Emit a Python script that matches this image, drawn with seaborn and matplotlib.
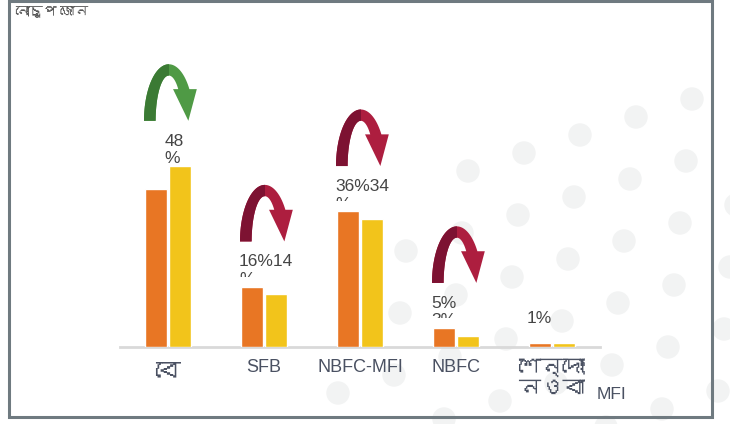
import numpy as np
import pandas as pd
import seaborn as sns
import matplotlib.pyplot as plt
from matplotlib.patches import Polygon, Rectangle, Circle
from matplotlib import transforms, font_manager
from matplotlib.ft2font import FT2Font

# chart data
categories = ["বে", "SFB", "NBFC-MFI", "NBFC", "শেন্দোং নওবা MFI"]
tick_labels = ["বে", "SFB", "NBFC-MFI", "NBFC", "শেন্দোং\nনওবা"]
orange_vals = [42, 16, 36, 5, 1]
yellow_vals = [48, 14, 34, 3, 1]
label_top = ["48", "16%14", "36%34", "5%", "1%"]
label_bottom = ["%", "%", "%", "3%", ""]
arrow_kind = ["up", "down", "down", "down", None]

ORANGE = "#e87624"
YELLOW = "#f2c41b"
TEXT = "#454545"
TICK = "#4a5162"
ARROW_COLS = {"up": ("#3b7a34", "#4f9a45"), "down": ("#7d1232", "#ad1e3f")}

sns.set_theme(style="white")

# look for any installed family that has Bengali glyphs
bengali = []
for f in font_manager.fontManager.ttflist:
    try:
        if 0x09AC in FT2Font(f.fname).get_charmap() and f.name not in bengali:
            bengali.append(f.name)
    except Exception:
        pass
plt.rcParams['font.family'] = ['Liberation Sans'] + bengali[:1] + ['DejaVu Sans']

W, H = 730, 424
fig = plt.figure(figsize=(W / 100, H / 100), dpi=100)
fig.patch.set_facecolor("white")

# background dot pattern (decoration)
px = transforms.Affine2D().scale(1 / 100) + fig.dpi_scale_trans
a = np.array([56, -18]); b = np.array([-6, 62]); o = np.array([524, 153])
edge_x = [300, 380, 418, 469, 524, 581, 641, 702, 760]
edge_y = [285, 235, 205, 170, 140, 118, 100, 90, 80]
for i in range(-12, 12):
    for j in range(-8, 10):
        x, y = o + i * a + j * b
        if not (-15 < y < 440 and x < 745):
            continue
        if y < np.interp(x, edge_x, edge_y):
            continue
        if x < 400 - max(0, y - 250) * 0.5:
            continue
        fig.add_artist(Circle((x, H - y), 11, transform=px, color="#f2f3f3", zorder=0))

# frame
fig.add_artist(Rectangle((9, H - 417), 703, 416, transform=px, fill=False,
                         edgecolor="#6f7a80", linewidth=2.2, zorder=5))
fig.text(15 / W, 1 - 12 / H, "নোংচুপ জোন", fontsize=10, color="#555555", va="center", ha="left")

ax = fig.add_axes([120 / W, (H - 347) / H, 480 / W, (347 - 20) / H])
ax.patch.set_alpha(0)

df = pd.DataFrame({
    "cat": categories * 2,
    "series": ["o"] * 5 + ["y"] * 5,
    "val": orange_vals + yellow_vals,
})
sns.barplot(data=df, x="cat", y="val", hue="series", palette=[ORANGE, YELLOW],
            width=0.51, gap=0.1, saturation=1, legend=False, ax=ax, zorder=3)

ymax = (347 - 20) / 3.77
ax.set_ylim(0, ymax)
ax.set_xlim(-0.5, 4.5)
for s in ["top", "right", "left"]:
    ax.spines[s].set_visible(False)
ax.spines["bottom"].set_color("#d9d9d9")
ax.spines["bottom"].set_linewidth(2)
ax.set_yticks([])
ax.set_xlabel("")
ax.set_ylabel("")
ax.set_xticks(range(5))
ax.set_xticklabels(tick_labels, fontsize=13, color=TICK)
ax.tick_params(axis="x", length=0, pad=9)
tl = ax.get_xticklabels()
tl[0].set_fontsize(18)
tl[-1].set_horizontalalignment("left")
tl[-1].set_fontsize(16)
tl[-1].set_linespacing(1.0)
tl[-1].set_transform(tl[-1].get_transform() + transforms.ScaledTranslation(-0.34, 0.02, fig.dpi_scale_trans))
ax.text(4.47, -0.145, "MFI", transform=transforms.blended_transform_factory(ax.transData, ax.transAxes),
        fontsize=12.5, color=TICK, ha="left", va="center")


def u_arrow(cx, base, kind):
    x0, w, h = cx - 0.25, 0.55, 15.0
    t1 = np.linspace(np.pi, np.arcsin(0.56), 50)
    t2 = np.linspace(np.arcsin(0.7), np.pi, 50)
    outer = np.c_[0.47 + 0.47 * np.cos(t1), 1.0 * np.sin(t1)]
    inner = np.c_[0.47 + 0.25 * np.cos(t2), 0.8 * np.sin(t2)]
    pts = np.vstack([outer, [[1.0, 0.56], [0.84, 0.0], [0.55, 0.56]], inner])
    pts = np.c_[x0 + pts[:, 0] * w, base + pts[:, 1] * h]
    dark, light = ARROW_COLS[kind]
    ax.add_patch(Polygon(pts, closed=True, color=light, lw=0, zorder=4))
    p2 = Polygon(pts, closed=True, color=dark, lw=0, zorder=4.1)
    ax.add_patch(p2)
    p2.set_clip_path(Rectangle((x0 - 0.05, base - 1), 0.47 * w + 0.05, h + 2, transform=ax.transData))


for i in range(5):
    top = max(orange_vals[i], yellow_vals[i])
    if arrow_kind[i]:
        u_arrow(i, top + 12, arrow_kind[i])
    if i == 0:
        anchor, lx, clipped = yellow_vals[i], i - 0.04, False
    else:
        anchor, lx, clipped = orange_vals[i], i - 0.26, True
    ax.text(lx, anchor + 6.6, label_top[i], fontsize=12.5, color=TEXT, ha="left", va="center", zorder=6)
    if label_bottom[i]:
        t = ax.text(lx, anchor + 1.9, label_bottom[i], fontsize=12.5, color=TEXT,
                    ha="left", va="center", zorder=6)
        if clipped:
            t.set_clip_on(True)
            t.set_clip_path(Rectangle((lx - 0.2, anchor + 2.6), 1, 20, transform=ax.transData))

fig.savefig("out.png", dpi=100)
